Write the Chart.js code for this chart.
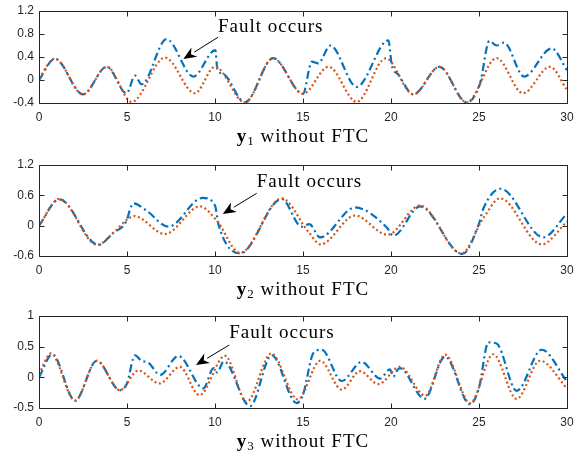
<!DOCTYPE html>
<html>
<head>
<meta charset="utf-8">
<script src="https://cdn.jsdelivr.net/npm/chart.js@4.4.1/dist/chart.umd.min.js"></script>
<style>
    html, body { margin: 0; padding: 0; background: #fff; }
    body { width: 574px; height: 458px; position: relative; overflow: hidden; }
    .panel { position: absolute; left: 0; width: 574px; height: 152px; }
</style>
</head>
<body>
<div class="panel" style="top:0px"><canvas id="c1" width="574" height="152"></canvas></div>
<div class="panel" style="top:152px"><canvas id="c2" width="574" height="152"></canvas></div>
<div class="panel" style="top:304px"><canvas id="c3" width="574" height="152"></canvas></div>
<script>
// ========================================
// DATA
// ========================================
const xTicks = [0, 5, 10, 15, 20, 25, 30];

// y1
const y1Ticks = [-0.4, 0, 0.4, 0.8, 1.2];
const t1Nominal = [0, 0.9, 2.5, 3.85, 5.27, 7.16, 8.86, 10.0, 11.7, 13.3, 15.0, 16.45, 18.05, 19.7, 21.27, 22.75, 24.3, 26.0, 27.5, 29.03, 30];
const y1Nominal = [0.03, 0.37, -0.25, 0.23, -0.38, 0.39, -0.23, 0.23, -0.39, 0.38, -0.24, 0.23, -0.38, 0.375, -0.25, 0.23, -0.39, 0.38, -0.23, 0.23, -0.17];
const t1Fault = [0, 0.9, 2.5, 3.85, 4.98, 5.45, 5.83, 7.25, 8.77, 10.02, 10.13, 10.5, 11.7, 13.3, 15.0, 15.5, 15.87, 16.55, 18.05, 19.85, 20.05, 20.4, 21.27, 22.75, 24.3, 25.05, 25.59, 26.0, 26.42, 27.56, 29.13, 30];
const y1Fault = [0, 0.37, -0.25, 0.23, -0.23, 0.075, -0.075, 0.71, 0.06, 0.52, 0.2, 0.1, -0.39, 0.38, -0.24, 0.32, 0.29, 0.6, -0.12, 0.69, 0.25, 0.1, -0.25, 0.23, -0.39, -0.07, 0.68, 0.6, 0.65, 0.06, 0.55, 0.17];

// y2
const y2Ticks = [-0.6, 0, 0.6, 1.2];
const t2Nominal = [0, 1.15, 3.3, 4.2, 5.0, 5.4, 7.16, 9.15, 10.1, 11.42, 13.79, 15.3, 16.0, 17.95, 19.8, 21.65, 24.0, 25.25, 26.2, 28.56, 30];
const y2Nominal = [0, 0.53, -0.38, -0.15, 0.12, 0.19, -0.165, 0.38, 0.1, -0.54, 0.54, -0.12, -0.37, 0.2, -0.18, 0.4, -0.55, 0.15, 0.54, -0.37, 0.08];
const t2Fault = [0, 1.15, 3.37, 4.2, 5.0, 5.15, 5.36, 6.1, 7.35, 9.3, 10.0, 10.2, 11.42, 13.79, 14.92, 15.36, 15.97, 17.95, 19.75, 20.13, 21.65, 24.05, 25.0, 25.25, 26.23, 28.65, 30];
const y2Fault = [0, 0.52, -0.38, -0.15, 0.12, 0.3, 0.44, 0.3, -0.02, 0.55, 0.4, 0.02, -0.55, 0.53, -0.02, 0.03, -0.23, 0.36, -0.03, -0.2, 0.38, -0.56, 0.04, 0.34, 0.73, -0.23, 0.24];

// y3
const y3Ticks = [-0.5, 0, 0.5, 1];
const t3Nominal = [0, 0.67, 2.05, 3.28, 4.6, 5.64, 6.84, 8.0, 9.11, 10.57, 11.8, 13.2, 14.7, 15.98, 17.2, 18.24, 19.28, 20.5, 21.95, 23.07, 24.5, 25.81, 27.14, 28.47, 30];
const y3Nominal = [0.05, 0.39, -0.38, 0.27, -0.21, 0.11, -0.1, 0.17, -0.29, 0.35, -0.4, 0.39, -0.36, 0.27, -0.2, 0.1, -0.11, 0.17, -0.3, 0.37, -0.42, 0.375, -0.35, 0.27, -0.18];
const t3Fault = [0, 0.76, 2.05, 3.28, 4.6, 5.0, 5.45, 5.83, 6.21, 6.88, 7.92, 9.34, 9.92, 10.12, 10.5, 11.99, 13.22, 14.64, 15.0, 15.6, 16.06, 17.2, 18.33, 19.38, 19.94, 20.13, 20.32, 20.5, 21.9, 23.07, 24.49, 25.0, 25.53, 26.0, 27.14, 28.56, 30];
const y3Fault = [0, 0.375, -0.38, 0.27, -0.21, -0.1, 0.36, 0.27, 0.24, 0.04, 0.35, -0.18, 0.15, 0.08, 0.26, -0.47, 0.36, -0.42, -0.28, 0.4, 0.45, -0.06, 0.25, -0.02, 0.13, 0.01, 0.1, 0.15, -0.35, 0.34, -0.44, -0.17, 0.57, 0.55, -0.22, 0.45, -0.07];

// ========================================
// HELPERS
// ========================================
const BLUE = '#0072BD';
const ORANGE = '#D95319';
const AXIS = '#262626';
const SERIF = '"Liberation Serif", "Times New Roman", serif';

function toPoints(ts, ys) {
    return ts.map((t, i) => ({ x: t, y: ys[i] }));
}

function fmt(v) {
    return String(+Number(v).toFixed(2));
}

// MATLAB-like box, inward ticks, x label and the "Fault occurs" note
const matlabAxes = {
    id: 'matlabAxes',
    afterDatasetsDraw(chart, args, opts) {
        const { ctx, chartArea: a, scales } = chart;
        const sx = scales.x, sy = scales.y;
        const L = Math.round(a.left) + 0.5, R = Math.round(a.right) + 0.5;
        const T = Math.round(a.top) + 0.5, B = Math.round(a.bottom) + 0.5;
        const tk = 5;

        ctx.save();
        ctx.strokeStyle = AXIS;
        ctx.lineWidth = 1;
        ctx.setLineDash([]);
        ctx.beginPath();
        ctx.rect(L, T, R - L, B - T);
        sx.ticks.forEach(tick => {
            const px = Math.round(sx.getPixelForValue(tick.value)) + 0.5;
            ctx.moveTo(px, B); ctx.lineTo(px, B - tk);
            ctx.moveTo(px, T); ctx.lineTo(px, T + tk);
        });
        sy.ticks.forEach(tick => {
            const py = Math.round(sy.getPixelForValue(tick.value)) + 0.5;
            ctx.moveTo(L, py); ctx.lineTo(L + tk, py);
            ctx.moveTo(R, py); ctx.lineTo(R - tk, py);
        });
        ctx.stroke();

        // x label: bold y, subscript index, " without FTC"
        ctx.fillStyle = '#000';
        ctx.textBaseline = 'alphabetic';
        ctx.textAlign = 'left';
        if ('letterSpacing' in ctx) ctx.letterSpacing = '1px';
        const base = a.bottom + 39;
        ctx.font = 'bold 19px ' + SERIF;
        const wY = ctx.measureText('y').width;
        ctx.font = '13px ' + SERIF;
        const wS = ctx.measureText(opts.sub).width;
        ctx.font = '19px ' + SERIF;
        const wR = ctx.measureText(' without FTC').width;
        let xs = (a.left + a.right) / 2 - (wY + wS + wR) / 2;
        ctx.font = 'bold 19px ' + SERIF;
        ctx.fillText('y', xs, base);
        xs += wY;
        ctx.font = '13px ' + SERIF;
        ctx.fillText(opts.sub, xs, base + 3);
        xs += wS;
        ctx.font = '19px ' + SERIF;
        ctx.fillText(' without FTC', xs, base);

        // annotation
        const n = opts.note;
        ctx.fillText('Fault occurs', sx.getPixelForValue(n.textX), sy.getPixelForValue(n.textY));
        const x0 = sx.getPixelForValue(n.fromX), y0 = sy.getPixelForValue(n.fromY);
        const x1 = sx.getPixelForValue(n.toX), y1 = sy.getPixelForValue(n.toY);
        const ang = Math.atan2(y1 - y0, x1 - x0);
        const hl = 13, hw = 5.5;
        const bx = x1 - hl * Math.cos(ang), by = y1 - hl * Math.sin(ang);
        ctx.beginPath();
        ctx.moveTo(x0, y0);
        ctx.lineTo(bx, by);
        ctx.lineWidth = 1;
        ctx.strokeStyle = '#000';
        ctx.stroke();
        const nx = -Math.sin(ang), ny = Math.cos(ang);
        const mx = x1 - (hl * 0.7) * Math.cos(ang), my = y1 - (hl * 0.7) * Math.sin(ang);
        ctx.beginPath();
        ctx.moveTo(x1, y1);
        ctx.lineTo(bx + nx * hw, by + ny * hw);
        ctx.lineTo(mx, my);
        ctx.lineTo(bx - nx * hw, by - ny * hw);
        ctx.closePath();
        ctx.fillStyle = '#000';
        ctx.fill();
        ctx.restore();
    }
};

function makeChart(id, nominal, fault, yTicks, padTop, xHeight, sub, note) {
    const yMin = yTicks[0], yMax = yTicks[yTicks.length - 1];
    return new Chart(document.getElementById(id), {
        type: 'line',
        data: {
            datasets: [
                {
                    data: nominal,
                    borderColor: ORANGE,
                    borderWidth: 2.2,
                    borderDash: [2, 2.6],
                    cubicInterpolationMode: 'monotone',
                    pointRadius: 0,
                    fill: false
                },
                {
                    data: fault,
                    borderColor: BLUE,
                    borderWidth: 2.2,
                    borderDash: [8, 3.5, 2, 3.5],
                    cubicInterpolationMode: 'monotone',
                    pointRadius: 0,
                    fill: false
                }
            ]
        },
        options: {
            responsive: false,
            animation: false,
            devicePixelRatio: 1,
            layout: { padding: { top: padTop, right: 7, left: 0, bottom: 0 } },
            plugins: {
                legend: { display: false },
                tooltip: { enabled: false },
                matlabAxes: { sub: sub, note: note }
            },
            scales: {
                x: {
                    type: 'linear',
                    min: 0,
                    max: 30,
                    afterBuildTicks: s => { s.ticks = xTicks.map(v => ({ value: v })); },
                    afterFit: s => { s.height = xHeight; s.paddingLeft = 0; s.paddingRight = 0; },
                    grid: { display: false, drawTicks: false, tickLength: 0 },
                    border: { display: false },
                    ticks: {
                        padding: 7,
                        color: AXIS,
                        maxRotation: 0,
                        font: { family: '"Liberation Sans", Arial, sans-serif', size: 12 },
                        callback: v => fmt(v)
                    }
                },
                y: {
                    min: yMin,
                    max: yMax,
                    afterBuildTicks: s => { s.ticks = yTicks.map(v => ({ value: v })); },
                    afterFit: s => { s.width = 39; s.paddingTop = 0; s.paddingBottom = 0; },
                    grid: { display: false, drawTicks: false, tickLength: 0 },
                    border: { display: false },
                    ticks: {
                        padding: 5,
                        color: AXIS,
                        font: { family: '"Liberation Sans", Arial, sans-serif', size: 12 },
                        callback: v => fmt(v)
                    }
                }
            }
        },
        plugins: [matlabAxes]
    });
}

// ========================================
// RENDER
// ========================================
makeChart('c1', toPoints(t1Nominal, y1Nominal), toPoints(t1Fault, y1Fault), y1Ticks, 11, 49, '1',
    { textX: 10.17, textY: 0.835, fromX: 10.17, fromY: 0.743, toX: 8.2, toY: 0.365 });
makeChart('c2', toPoints(t2Nominal, y2Nominal), toPoints(t2Fault, y2Fault), y2Ticks, 13, 48, '2',
    { textX: 12.37, textY: 0.771, fromX: 12.37, fromY: 0.64, toX: 10.44, toY: 0.231 });
makeChart('c3', toPoints(t3Nominal, y3Nominal), toPoints(t3Fault, y3Fault), y3Ticks, 12, 48, '3',
    { textX: 10.81, textY: 0.646, fromX: 10.81, fromY: 0.527, toX: 8.92, toY: 0.201 });
</script>
</body>
</html>
